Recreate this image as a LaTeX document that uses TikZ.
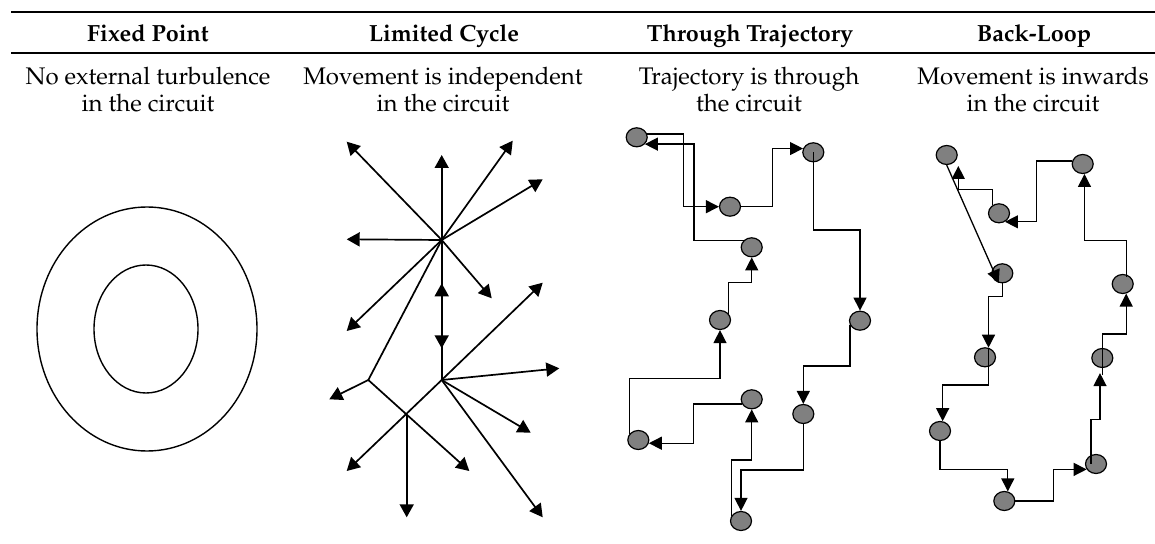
\documentclass[tikz,border=0pt]{standalone}
\usepackage[T1]{fontenc}
\renewcommand{\rmdefault}{ppl}
\usetikzlibrary{arrows.meta,shapes.geometric,calc}
\definecolor{dotgray}{HTML}{808080}
\begin{document}
\begin{tikzpicture}[x=0.5pt,y=-0.5pt,
  head/.style={font=\fontsize{11.7}{14}\selectfont\bfseries, anchor=base, inner sep=0pt},
  desc/.style={font=\fontsize{12}{14}\selectfont, anchor=base, inner sep=0pt},
  ring/.style={ellipse, draw, line width=0.7pt, inner sep=0pt},
  lcline/.style={line width=0.85pt},
  ray/.style={line width=0.85pt, -{Triangle[length=6.5pt,width=7pt]}},
  dbl/.style={line width=0.85pt, {Triangle[length=6.5pt,width=7pt]}-{Triangle[length=6.5pt,width=7pt]}},
  dot/.style={ellipse, draw, fill=dotgray, line width=0.6pt, minimum width=10.5pt, minimum height=9.5pt, inner sep=0pt},
  flow/.style={line width=0.65pt, -{Triangle[length=6.5pt,width=6.5pt]}}]
\useasboundingbox (0,0) rectangle (1155,544);

% table rules
\coordinate (r1a) at (11,11.7);  \coordinate (r1b) at (1155,11.7);
\coordinate (r2a) at (11,53);    \coordinate (r2b) at (1155,53);
\draw[line width=1pt] (r1a) -- (r1b);
\draw[line width=0.6pt] (r2a) -- (r2b);

% column headings
\node[head] (h1) at (148,41.5) {Fixed Point};
\node[head] (h2) at (444,41.5) {Limited Cycle};
\node[head] (h3) at (750,41.5) {Through Trajectory};
\node[head] (h4) at (1034,41.5) {Back-Loop};

% descriptions
\node[desc] (d1a) at (148,84.5) {No external turbulence};
\node[desc] (d1b) at (148,111.5) {in the circuit};
\node[desc] (d2a) at (443,84.5) {Movement is independent};
\node[desc] (d2b) at (443,111.5) {in the circuit};
\node[desc] (d3a) at (749,84.5) {Trajectory is through};
\node[desc] (d3b) at (749,111.5) {the circuit};
\node[desc] (d4a) at (1033,84.5) {Movement is inwards};
\node[desc] (d4b) at (1033,111.5) {in the circuit};

% fixed point: two nested rings
\node[ring, minimum width=110pt, minimum height=122pt] (outer) at (147,329) {};
\node[ring, minimum width=52pt, minimum height=64pt] (inner) at (146,329) {};

% limited cycle: bursts of rays
\coordinate (hA) at (441.7,240);
\coordinate (hB) at (441.7,380);
\coordinate (jA) at (368.3,380);
\coordinate (jB) at (406.7,415);
\coordinate (mA) at (441.7,283.3);
\coordinate (mB) at (441.7,348.3);
\coordinate (a1) at (346.7,141.7);
\coordinate (a2) at (441.7,155);
\coordinate (a3) at (512.7,140.7);
\coordinate (a4) at (542.7,179.3);
\coordinate (a5) at (346.7,239.3);
\coordinate (a6) at (491.7,298.3);
\coordinate (a7) at (346.7,331);
\coordinate (b1) at (542.7,282.7);
\coordinate (b2) at (559.3,368.3);
\coordinate (b3) at (530.7,432.7);
\coordinate (b4) at (542.7,517.3);
\coordinate (b5) at (346.7,471);
\coordinate (c1) at (329.3,399.3);
\coordinate (c2) at (469.3,471);
\coordinate (c3) at (406.7,517.3);
\foreach \t in {a1,a2,a3,a4,a5,a6,a7} \draw[ray] (hA) -- (\t);
\foreach \t in {b1,b2,b3,b4,b5} \draw[ray] (hB) -- (\t);
\draw[lcline] (hA) -- (jA);
\draw[lcline] (hA) -- (hB);
\draw[dbl] (mA) -- (mB);
\draw[ray] (jA) -- (c1);
\draw[ray] (jA) -- (c2);
\draw[ray] (jB) -- (c3);

% through trajectory
\node[dot] (A) at (636.7,137.3) {};
\node[dot] (B) at (730,206.7) {};
\node[dot] (C) at (813.3,152.3) {};
\node[dot] (D) at (751.7,247.3) {};
\node[dot] (E) at (720,320) {};
\node[dot] (F) at (860,320.7) {};
\node[dot] (G) at (751.7,399.3) {};
\node[dot] (H) at (803.3,414) {};
\node[dot] (I) at (638.3,440) {};
\node[dot] (J) at (741,521) {};
\draw[flow] (A.18) -| (683.3,180) |- (B.west);
\draw[flow] (B.east) -| (772.7,180) |- (C.160);
\draw[flow] (C.center) |- (840,230) -| (F.north);
\draw[flow] (F.205) |- (830,366) -| (H.north);
\draw[flow] (H.south) |- (770,470) -| (J.north);
\draw[flow] (J.150) |- (740,460) -| (G.south);
\draw[flow] (G.205) -| (693.3,425) |- (I.-17);
\draw[flow] (I.145) |- (680,378.3) -| (E.south);
\draw[flow] (E.35) |- (740,282.7) -| (D.south);
\draw[flow] (D.140) -| (694,200) |- (A.-40);

% back-loop
\node[dot] (P1) at (946.7,155) {};
\node[dot] (P2) at (999,213.3) {};
\node[dot] (P3) at (1082.7,164) {};
\node[dot] (P4) at (1002.3,273.3) {};
\node[dot] (P5) at (1122.7,284) {};
\node[dot] (P6) at (985,357.3) {};
\node[dot] (P7) at (1102.3,358) {};
\node[dot] (P8) at (940,431) {};
\node[dot] (P9) at (1096,464) {};
\node[dot] (P10) at (1004.3,501) {};
\draw[flow] (P1.south) -- (P4.250);
\draw[flow] (P4.south) |- (995,296.7) -| (P6.70);
\draw[flow] (P6.70) |- (960,385) -| (P8.75);
\draw[flow] (P8.south) |- (980,469.3) -| (P10.70);
\draw[flow] (P10.east) -| (1053.3,480) |- (P9.210);
\draw[flow] ($(P9)+(-5,0)$) |- (1095,419.3) -| ($(P7.south)+(-2.3,5)$);
\draw[flow] ($(P7.south)+(0,7)$) |- (1115,334) -| (P5.-70);
\draw[flow] ($(P5)+(4,-7)$) |- (1100,240.7) -| (P3.-80);
\draw[flow] (P3.165) -| (1036.7,190) |- (P2.-55);
\draw[flow] (P2.130) |- (970,189.3) -| ($(P1)+(11.6,11)$);
\end{tikzpicture}
\end{document}
